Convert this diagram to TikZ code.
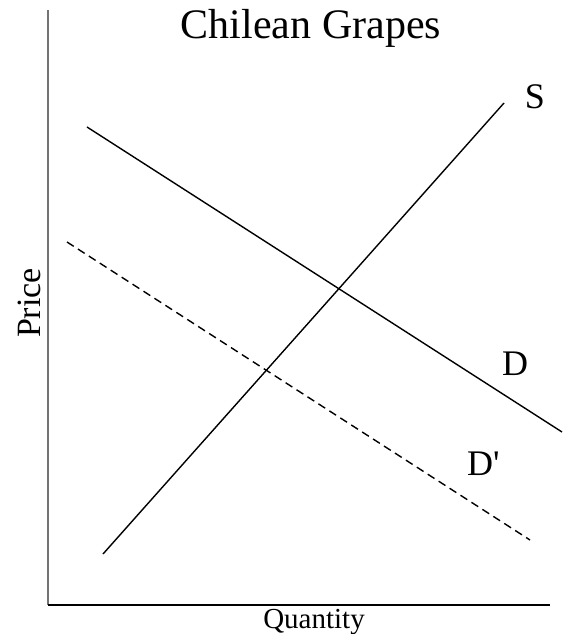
\documentclass[tikz,border=0pt]{standalone}
\usepackage{fontspec}
\setmainfont{Liberation Serif}
\begin{document}
\begin{tikzpicture}[x=1pt,y=-1pt,
  curve/.style={line width=1.4pt,black},
  dcurve/.style={curve,dash pattern=on 8pt off 5pt},
  lbl/.style={inner sep=0pt,anchor=base,font=\fontsize{36}{42}\selectfont}]
\useasboundingbox (0,0) rectangle (564,634);
% axes
\coordinate (origin) at (48,605);
\coordinate (ytop) at (48,10);
\coordinate (xend) at (550,605);
\draw[line width=1.5pt,black!55] (origin) -- (ytop);
\draw[line width=1.5pt,black] (origin) -- (xend);
% title
\node[inner sep=0pt,anchor=base,font=\fontsize{42}{48}\selectfont] (title) at (311,39) {Chilean Grapes};
% axis labels
\node[inner sep=0pt,anchor=base,font=\fontsize{34}{38}\selectfont,rotate=90] (price) at (40,303) {Price};
\node[inner sep=0pt,anchor=base,font=\fontsize{29}{33}\selectfont] (qty) at (314,628) {Quantity};
% curves
\coordinate (s1) at (103,554);
\coordinate (s2) at (504,103);
\coordinate (d1) at (87,127);
\coordinate (d2) at (562,432);
\coordinate (dp1) at (67,242);
\coordinate (dp2) at (530,540);
\draw[curve] (s1) -- (s2);
\draw[curve] (d1) -- (d2);
\draw[dcurve] (dp1) -- (dp2);
% labels
\node[lbl] (slab) at (535,108) {S};
\node[lbl] (dlab) at (515,375) {D};
\node[lbl,anchor=base west] (dplab) at (467,475) {D\textquotesingle};
\end{tikzpicture}
\end{document}
